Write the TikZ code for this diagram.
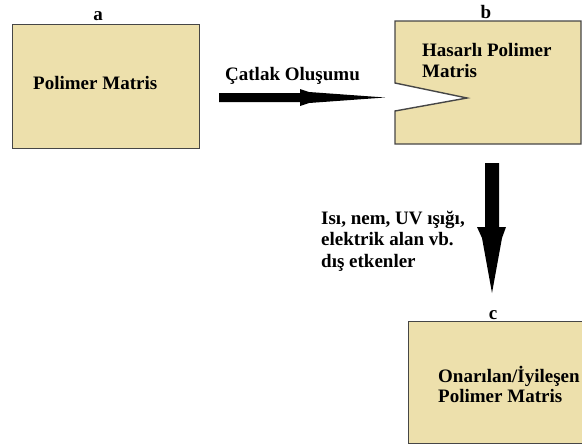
\documentclass[tikz,border=0pt]{standalone}
\usepackage{fontspec}
\setmainfont{Liberation Serif}
\newfontfamily\tnrfont{Liberation Serif}[BoldFont={Liberation Serif Bold}]
\definecolor{boxfill}{RGB}{237,224,172}
\definecolor{boxline}{RGB}{70,70,70}
\begin{document}
\begin{tikzpicture}[x=1pt,y=-1pt,
  matbox/.style={draw=boxline,line width=1.4pt,fill=boxfill},
  lbl/.style={font=\tnrfont\bfseries\fontsize{19}{21}\selectfont,inner sep=0pt,anchor=base west},
  tag/.style={font=\tnrfont\bfseries\fontsize{19}{21}\selectfont,inner sep=0pt,anchor=base},
  bigarrow/.style={fill=black,draw=none}]
\useasboundingbox (0,0) rectangle (582,445);
% box a
\node[matbox,minimum width=187pt,minimum height=124pt,inner sep=0pt,anchor=north west] (boxa) at (12,24) {};
% box b with notch
\coordinate (notchtip) at (467,98);
\draw[matbox] (395,21) -- (581,21) -- (581,144) -- (395,144) -- (395,111) -- (notchtip) -- (395,83) -- cycle;
% box c
\node[matbox,minimum width=200pt,minimum height=122pt,inner sep=0pt,anchor=north west] (boxc) at (408,321) {};
% tags
\node[tag] (taga) at (98,20) {a};
\node[tag] (tagb) at (486,18) {b};
\node[tag] (tagc) at (493,319) {c};
% texts
\node[lbl] (ta) at (33,89) {Polimer Matris};
\node[lbl] (crack) at (225,80) {Çatlak Oluşumu};
\node[lbl] (tb1) at (422,56) {Hasarlı Polimer};
\node[lbl] (tb2) at (422,77) {Matris};
\node[lbl] (e1) at (321,224) {Isı, nem, UV ışığı,};
\node[lbl] (e2) at (321,245) {elektrik alan vb.};
\node[lbl] (e3) at (321,267) {dış etkenler};
\node[lbl] (tc1) at (438,382) {Onarılan/İyileşen};
\node[lbl] (tc2) at (438,402) {Polimer Matris};
% right arrow
\coordinate (rs) at (219,97.5);
\coordinate (rt) at (385,97.5);
\fill[bigarrow] (rs) ++(0,-4.5) -- ++(81,0) -- ++(0,-4) -- ++(9,3) -- (rt)
  -- ++(-76,5.5) -- ++(-9,3) -- ++(0,-4) -- ++(-81,0) -- cycle;
% down arrow
\coordinate (ds) at (492,163);
\coordinate (dt) at (492,293);
\fill[bigarrow] (ds) ++(-7,0) -- ++(14,0) -- ++(0,64) -- ++(7,0) -- ++(-4,11) -- (dt)
  -- ++(-10,-55) -- ++(-5,-11) -- ++(8,0) -- cycle;
\end{tikzpicture}
\end{document}
